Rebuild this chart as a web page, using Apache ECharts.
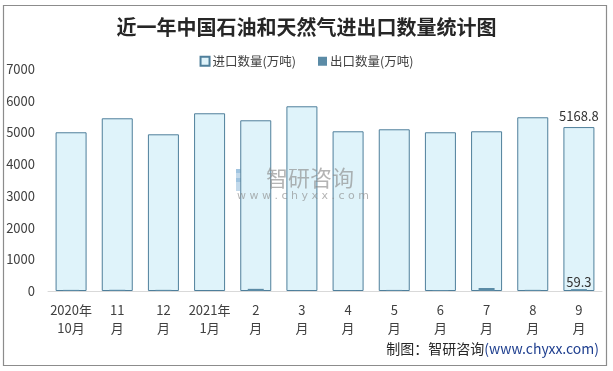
<!DOCTYPE html>
<html>
<head>
<meta charset="utf-8">
<script src="https://cdn.jsdelivr.net/npm/echarts@6/dist/echarts.min.js"></script>
<style>html,body{margin:0;padding:0;background:#fff;}#c{width:613px;height:371px;}</style>
</head>
<body>
<div id="c"></div>
<script>
const categories = ['2020年\n10月','11\n月','12\n月','2021年\n1月','2\n月','3\n月','4\n月','5\n月','6\n月','7\n月','8\n月','9\n月'];
const importValues = [5005, 5446, 4941, 5604, 5383, 5824, 5036, 5099, 5005, 5036, 5478, 5168.8];
const exportValues = [35, 38, 36, 0, 68, 8, 8, 34, 32, 95, 36, 59.3];
const yTicks = [0, 1000, 2000, 3000, 4000, 5000, 6000, 7000];

const FONT = '"Noto Sans CJK SC", "Noto Sans", sans-serif';
const chart = echarts.init(document.getElementById('c'), null, {renderer: 'canvas'});
const lastIdx = importValues.length - 1;

const option = {
  backgroundColor: '#fff',
  animation: false,
  title: {
    text: '近一年中国石油和天然气进出口数量统计图',
    left: 'center', top: 12,
    textStyle: {fontFamily: FONT, fontSize: 20, fontWeight: 'bold', color: '#262626'}
  },
  legend: {
    top: 50, left: 'center',
    itemWidth: 9, itemHeight: 9, itemGap: 22, itemStyle: {},
    icon: 'rect',
    textStyle: {fontFamily: FONT, fontSize: 12.5, color: '#404040', padding: [0, 0, 0, -2]},
    data: ['进口数量(万吨)', '出口数量(万吨)']
  },
  grid: {left: 48, right: 11, top: 69, bottom: 80, containLabel: false},
  xAxis: [{
    type: 'category', data: categories,
    axisLine: {lineStyle: {color: '#d9d9d9'}},
    axisTick: {show: false},
    axisLabel: {fontFamily: FONT, fontSize: 13, color: '#404040', lineHeight: 18, margin: 10, interval: 0}
  }, {
    type: 'category', data: categories, show: false
  }],
  yAxis: {
    type: 'value', min: yTicks[0], max: yTicks[yTicks.length - 1], interval: 1000,
    splitLine: {show: false}, axisLine: {show: false}, axisTick: {show: false},
    axisLabel: {fontFamily: FONT, fontSize: 13, color: '#404040', margin: 13, formatter: v => String(v)}
  },
  series: [{
    name: '进口数量(万吨)', type: 'bar', xAxisIndex: 0, barWidth: 31,
    itemStyle: {color: '#dff3fa', borderColor: '#4f7f9b', borderWidth: 1},
    data: importValues.map((v, i) => i === lastIdx ? {value: v, label: {show: true, position: 'top', distance: 5, fontFamily: FONT, fontSize: 13, color: '#333'}} : v)
  }, {
    name: '出口数量(万吨)', type: 'bar', xAxisIndex: 1, barWidth: 16,
    itemStyle: {color: '#5b8ba6'},
    data: exportValues.map((v, i) => i === lastIdx ? {value: v, label: {show: true, position: 'top', distance: 1, fontFamily: FONT, fontSize: 13, color: '#333'}} : v)
  }],
  graphic: [
    {type: 'rect', shape: {x: 3.5, y: 5.5, width: 603, height: 360}, style: {fill: 'none', stroke: '#8c8c8c', lineWidth: 1.2}, z: 100},
    {type: 'group', left: 236, top: 169, z: 50, children: [
      {type: 'rect', shape: {x: 0, y: 0, width: 14, height: 4}, style: {fill: 'rgba(120,170,210,0.45)'}},
      {type: 'rect', shape: {x: 0, y: 0, width: 4, height: 22}, style: {fill: 'rgba(120,170,210,0.45)'}},
      {type: 'rect', shape: {x: 0, y: 9, width: 14, height: 4}, style: {fill: 'rgba(120,170,210,0.45)'}},
      {type: 'rect', shape: {x: 10, y: 0, width: 4, height: 13}, style: {fill: 'rgba(120,170,210,0.45)'}},
      {type: 'rect', shape: {x: 16, y: 2, width: 5, height: 20}, style: {fill: 'rgba(140,190,225,0.5)'}},
      {type: 'rect', shape: {x: 5, y: 18, width: 16, height: 4}, style: {fill: 'rgba(140,190,225,0.5)'}}
    ]},
    {type: 'text', left: 266, top: 167, z: 50, style: {text: '智研咨询', font: '22px "Noto Sans CJK SC"', fill: 'rgba(140,140,140,0.65)'}},
    {type: 'text', left: 237, top: 191, z: 50, style: {text: 'w w w . c h y x x . c o m', font: '11px "DejaVu Sans"', fill: 'rgba(140,140,140,0.65)'}},
    {type: 'text', right: 14, top: 342, z: 50, style: {
      text: '{a|制图：智研咨询}{b|(www.chyxx.com)}',
      rich: {a: {fontFamily: FONT, fontSize: 14, fill: '#262626'}, b: {fontFamily: FONT, fontSize: 14, fill: '#1f3f8f'}}
    }}
  ]
};
chart.setOption(option);
</script>
</body>
</html>
